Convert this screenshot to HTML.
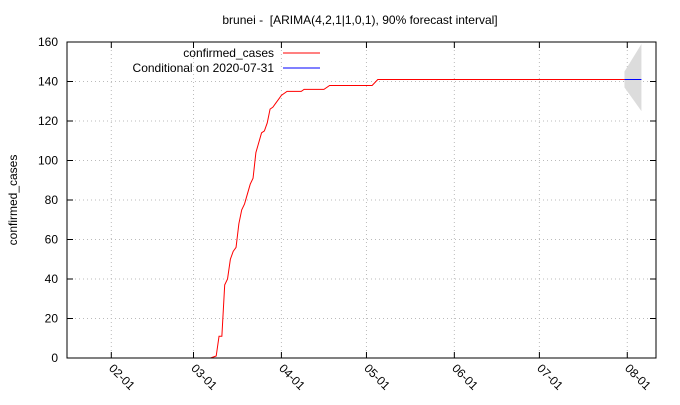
<!DOCTYPE html>
<html><head><meta charset="utf-8"><style>
body{margin:0;background:#fff;}
svg{font-family:"Liberation Sans",sans-serif;font-size:12px;}
</style></head><body>
<svg id="chart" width="680" height="400">
<text x="360" y="24" text-anchor="middle" style="white-space:pre">brunei -  [ARIMA(4,2,1|1,0,1), 90% forecast interval]</text>
<text transform="translate(17,200) rotate(-90)" text-anchor="middle">confirmed_cases</text>
<g id="grid"></g><g id="ticks"></g><g id="marks"></g>
<rect x="67" y="42" width="589" height="316" fill="none" stroke="#000" stroke-width="1"/>
<g>
<text x="274" y="57" text-anchor="end">confirmed_cases</text>
<line x1="283" y1="53" x2="320" y2="53" stroke="#f00"/>
<text x="274" y="72" text-anchor="end">Conditional on 2020-07-31</text>
<line x1="283" y1="68" x2="320" y2="68" stroke="#00f"/>
</g>
</svg>
<script>
// days since 2020-02-01
const days=[35,37,38,39,40,41,42,43,44,45,46,47,48,49,50,51,52,53,54,55,56,57,58,59,60,62,67,68,75,77,92,94,181];
const cases=[0,1,11,11,37,40,50,54,56,68,75,78,83,88,91,104,109,114,115,119,126,127,129,131,133,135,135,136,136,138,138,141,141];
const fcDays=[181,187];
const fcMid=[141,141];
const fcLo=[137,125];
const fcHi=[145,159];
const yTicks=[0,20,40,60,80,100,120,140,160];
const xTickDays=[0,29,60,90,121,151,182];
const xTickLabels=["02-01","03-01","04-01","05-01","06-01","07-01","08-01"];
const X=d=>111.3+2.835*d, Y=v=>358-v*1.975;
const NS="http://www.w3.org/2000/svg";
function mk(p,t,a){const e=document.createElementNS(NS,t);for(const k in a)e.setAttribute(k,a[k]);p.appendChild(e);return e;}
const grid=document.getElementById('grid'),ticks=document.getElementById('ticks'),marks=document.getElementById('marks');
yTicks.forEach(v=>{
 if(v>0&&v<160){const g=mk(grid,'line',{x1:67,x2:656,y1:Y(v),y2:Y(v),stroke:'#bbb','stroke-dasharray':'1,3'});
 
 }
 const t=mk(ticks,'line',{x1:67,x2:73,y1:Y(v),y2:Y(v),stroke:'#000'});
 
 
 const t2=mk(ticks,'line',{x1:650,x2:656,y1:Y(v),y2:Y(v),stroke:'#000'});
 
 
 const l=mk(ticks,'text',{x:58,y:Y(v)+4,'text-anchor':'end'});l.textContent=v;
 
 
});
xTickDays.forEach((d,i)=>{
 const x=X(d);
 const g=mk(grid,'line',{x1:x,x2:x,y1:42,y2:358,stroke:'#bbb','stroke-dasharray':'1,3'});
 
 
 const t=mk(ticks,'line',{x1:x,x2:x,y1:352,y2:358,stroke:'#000'});
 
 
 const t2=mk(ticks,'line',{x1:x,x2:x,y1:42,y2:48,stroke:'#000'});
 
 
 const l=mk(ticks,'text',{transform:`translate(${x-3},${369}) rotate(45)`});l.textContent=xTickLabels[i];
 
 
});
const band=mk(marks,'polygon',{points:[X(fcDays[0])+','+Y(fcHi[0]),X(fcDays[1])+','+Y(fcHi[1]),X(fcDays[1])+','+Y(fcLo[1]),X(fcDays[0])+','+Y(fcLo[0])].join(' '),fill:'#dcdcdc'});


const line=mk(marks,'polyline',{points:days.map((d,i)=>X(d)+','+Y(cases[i])).join(' '),fill:'none',stroke:'#f00','stroke-width':1});


const fl=mk(marks,'polyline',{points:fcDays.map((d,i)=>X(d)+','+Y(fcMid[i])).join(' '),fill:'none',stroke:'#00f','stroke-width':1});


</script>
</body></html>
